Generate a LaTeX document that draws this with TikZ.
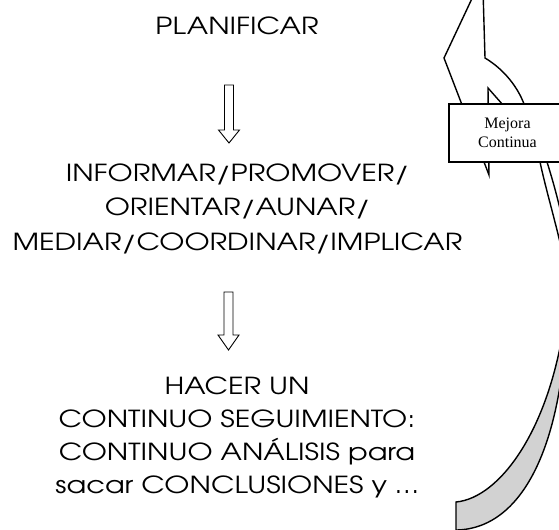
\documentclass[tikz,border=0pt]{standalone}
\usepackage{fontspec}
\setmainfont{TeX Gyre Adventor}[FakeStretch=1.23]
\newfontfamily\boxfont{Liberation Serif}
\begin{document}
\begin{tikzpicture}[x=1bp,y=-1bp,
  maintext/.style={inner sep=0pt, align=center, anchor=base,
    font=\fontsize{23.5bp}{34bp}\selectfont},
  hollowarrow/.style={draw=black, line width=0.9bp, fill=white, line join=miter},
  bandline/.style={draw=black, line width=1.4bp, line join=miter},
  bandback/.style={draw=black, line width=1.4bp, fill=gray!35},
  labelbox/.style={draw=black, line width=1.4bp, fill=white, inner sep=0pt,
    minimum width=117bp, minimum height=58bp, align=center,
    font=\boxfont\fontsize{16bp}{18.5bp}\selectfont}]
\useasboundingbox (0,0) rectangle (559,530);
\clip (0,0) rectangle (559,530);

% text blocks (anchor base = baseline of the last line)
\node[maintext] (plan) at (237,35) {PLANIFICAR};
\node[maintext] (inf) at (237.5,250) {INFORMAR/PROMOVER/\\ORIENTAR/AUNAR/\\MEDIAR/COORDINAR/IMPLICAR};
\node[maintext, font=\fontsize{23.5bp}{32.7bp}\selectfont] (seg) at (237,493) {HACER UN\\CONTINUO SEGUIMIENTO:\\CONTINUO ANÁLISIS para\\sacar CONCLUSIONES y …};

% hollow down arrows
\coordinate (a1) at (229,85);
\coordinate (a2) at (228.5,292);
\draw[hollowarrow] (a1) ++(-4.5,0) -- ++(0,45) -- ++(-6,0) -- ++(10.5,13) -- ++(10.5,-13) -- ++(-6,0) -- ++(0,-45) -- cycle;
\draw[hollowarrow] (a2) ++(-4.5,0) -- ++(0,43) -- ++(-6,0) -- ++(10.5,15) -- ++(10.5,-15) -- ++(-6,0) -- ++(0,-43) -- cycle;

% curved arrow: back (gray) part
\draw[bandback] (456,502) .. controls (500,498) and (552,428) .. (566,310)
  -- (567,300) .. controls (565,440) and (525,528) .. (457,530) -- (456,545) -- cycle;

% curved arrow: front part and head
\draw[bandline] (476,-10) -- (444,58) -- (489,175) -- (488,88) -- (503,105)
  .. controls (520,122) and (540,140) .. (547,162)
  .. controls (552,178) and (557,195) .. (563,222);
\draw[bandline] (483,-10) -- (485,58) .. controls (505,70) and (518,88) .. (524,104)
  .. controls (531,122) and (537,140) .. (540,162)
  .. controls (546,190) and (553,212) .. (563,255);

\node[labelbox] (mc) at (507.5,133) {Mejora\\Continua};
\end{tikzpicture}
\end{document}
